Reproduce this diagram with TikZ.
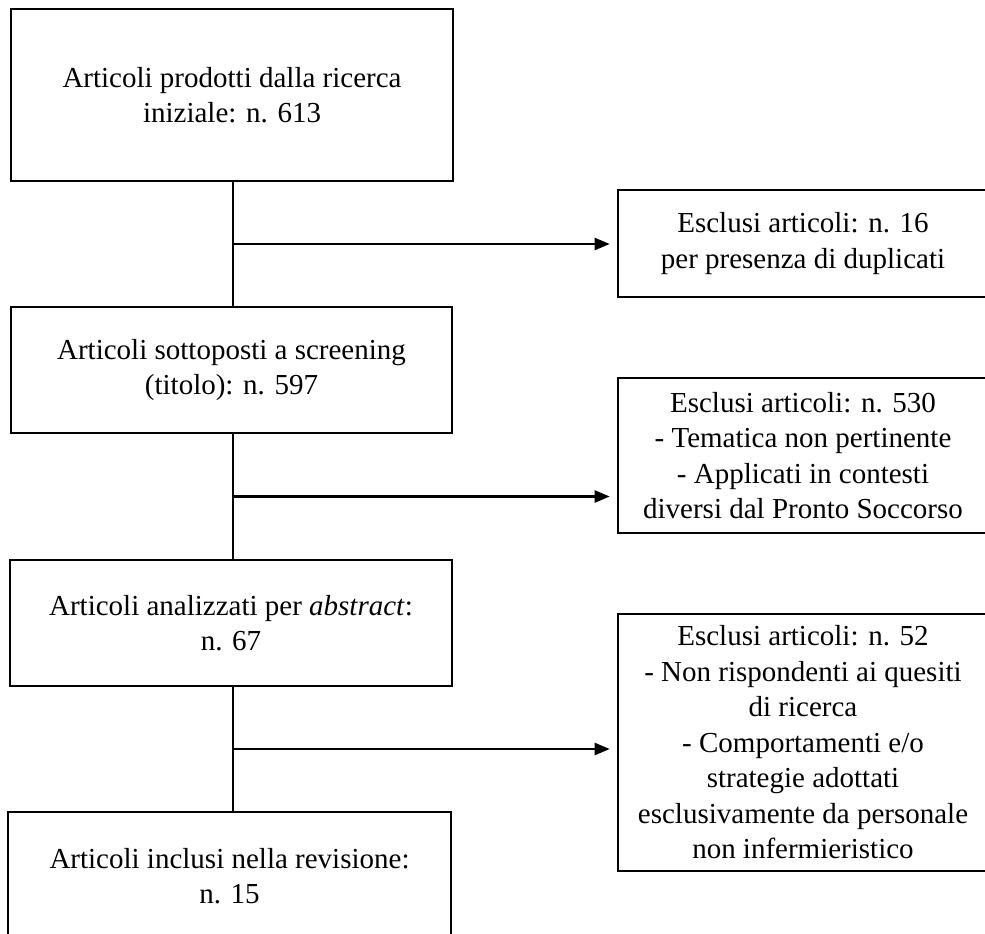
\documentclass[tikz,border=0pt]{standalone}
\usepackage{fontspec}
\setmainfont{Liberation Serif}
\usetikzlibrary{arrows.meta,calc}
\begin{document}
\begin{tikzpicture}[x=1pt,y=1pt,
  box/.style={draw=black,line width=2.6pt,rectangle,align=center,inner sep=0pt,
    font=\fontsize{29}{35.5}\selectfont},
  link/.style={draw=black,line width=2.3pt},
  arr/.style={link,-{Triangle[length=15pt,width=12pt]},shorten >=7pt}]
\useasboundingbox (0,0) rectangle (985,-934);
\clip (0,0) rectangle (985,-934);
\node[box,minimum width=442pt,minimum height=172pt] (b1) at (232,-95)
  {Articoli prodotti dalla ricerca\\iniziale: n. 613};
\node[box,minimum width=441pt,minimum height=126pt] (b2) at (231.5,-370)
  {Articoli sottoposti a screening\\(titolo): n. 597};
\node[box,minimum width=442pt,minimum height=126pt] (b3) at (231,-623)
  {Articoli analizzati per \textit{abstract}:\\n. 67};
\node[box,minimum width=443pt,minimum height=128pt] (b4) at (229.5,-876)
  {Articoli inclusi nella revisione:\\n. 15};
\node[box,minimum width=370pt,minimum height=107pt] (r1) at (803,-243.5)
  {Esclusi articoli: n. 16\\per presenza di duplicati};
\node[box,minimum width=370pt,minimum height=155pt] (r2) at (803,-455.5)
  {Esclusi articoli: n. 530\\- Tematica non pertinente\\- Applicati in contesti\\diversi dal Pronto Soccorso};
\node[box,minimum width=370pt,minimum height=257pt] (r3) at (803,-742.5)
  {Esclusi articoli: n. 52\\- Non rispondenti ai quesiti\\di ricerca\\- Comportamenti e/o\\strategie adottati\\esclusivamente da personale\\non infermieristico};
% vertical spines
\coordinate (t1) at ($(b1.south)+(1,0)$);
\coordinate (t2) at ($(b2.south)+(1.5,0)$);
\coordinate (t3) at ($(b3.south)+(2,0)$);
\draw[link] (t1) -- (t1 |- b2.north);
\draw[link] (t2) -- (t2 |- b3.north);
\draw[link] (t3) -- (t3 |- b4.north);
% branch points
\coordinate (m1) at ($(t1)!0.5!(t1 |- b2.north)$);
\coordinate (m2) at ($(t2)!0.5!(t2 |- b3.north)$);
\coordinate (m3) at ($(t3)!0.5!(t3 |- b4.north)$);
\draw[arr] (m1) -- (m1 -| r1.west);
\draw[arr] (m2) -- (m2 -| r2.west);
\draw[arr] (m3) -- (m3 -| r3.west);
\end{tikzpicture}
\end{document}
